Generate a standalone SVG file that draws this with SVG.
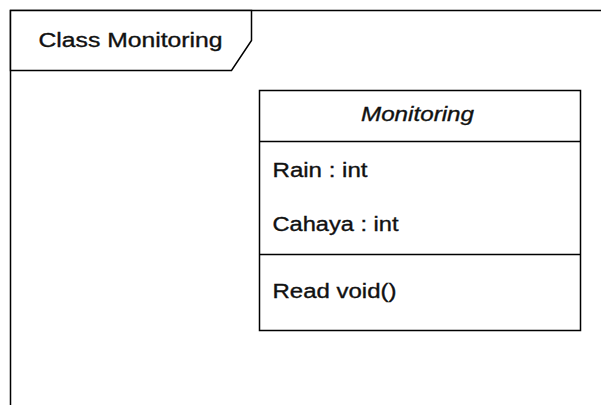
<svg xmlns="http://www.w3.org/2000/svg" width="601" height="405" viewBox="0 0 601 405">
<style>
.ln{fill:none;stroke:#000;stroke-width:1.5}
.box{fill:#fff;stroke:#000;stroke-width:1.5}
.t{font-family:"Liberation Sans",Arial,sans-serif;font-size:20px;fill:#111;stroke:#111;stroke-width:0.35}
.it{font-style:italic}
</style>
<rect width="601" height="405" fill="#fff"/>
<g id="frame">
<rect class="ln" x="10.5" y="10.5" width="620" height="420"/>
<path class="box" d="M10.5,10.5 H251.5 V40.5 L231.5,70.5 H10.5 Z"/>
<text class="t" x="38.5" y="46.5" textLength="184" lengthAdjust="spacingAndGlyphs">Class Monitoring</text>
</g>
<g id="monitoring">
<rect class="box" x="259.5" y="90.5" width="321" height="240"/>
<line class="ln" x1="259.5" y1="141.5" x2="580.5" y2="141.5"/>
<line class="ln" x1="259.5" y1="254.5" x2="580.5" y2="254.5"/>
<text class="t it" x="361" y="121" textLength="113" lengthAdjust="spacingAndGlyphs">Monitoring</text>
<text class="t" x="272.5" y="177" textLength="95" lengthAdjust="spacingAndGlyphs">Rain : int</text>
<text class="t" x="272.5" y="231" textLength="126" lengthAdjust="spacingAndGlyphs">Cahaya : int</text>
<text class="t" x="272.5" y="297.5" textLength="124" lengthAdjust="spacingAndGlyphs">Read void()</text>
</g>
<g id="connectors"></g>
</svg>
